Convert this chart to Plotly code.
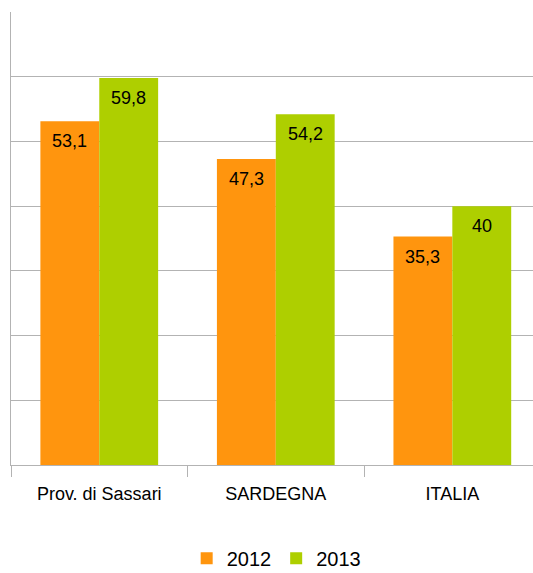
import plotly.graph_objects as go

categories = ["Prov. di Sassari", "SARDEGNA", "ITALIA"]
years = ["2012", "2013"]
values_2012 = [53.1, 47.3, 35.3]
values_2013 = [59.8, 54.2, 40]
colors = ["#ff950e", "#aecf00"]

FONT = "Liberation Sans, Arial, sans-serif"
BAR_PX = 59  # pixel width of one bar in the group (for label offsets)


def fmt(v):
    s = f"{v:g}"
    return s.replace(".", ",")


fig = go.Figure()
series = [values_2012, values_2013]
for name, vals, col in zip(years, series, colors):
    fig.add_trace(go.Bar(
        name=name,
        x=categories,
        y=vals,
        marker=dict(color=col, line=dict(width=0)),
        hovertemplate="%{x}: %{y}<extra>" + name + "</extra>",
    ))

# value labels inside the top of each bar
for i, vals in enumerate(series):
    offset = (i - 0.5) * BAR_PX
    for cat, v in zip(categories, vals):
        fig.add_annotation(
            x=cat, y=v, xref="x", yref="y",
            text=fmt(v), showarrow=False,
            xanchor="center", yanchor="top",
            xshift=offset, yshift=-8,
            font=dict(family=FONT, size=18, color="#000000"),
        )

fig.update_layout(
    width=533,
    height=573,
    margin=dict(l=11, r=0, t=12, b=108, autoexpand=False),
    paper_bgcolor="white",
    plot_bgcolor="white",
    barmode="group",
    bargap=0.333,
    bargroupgap=0,
    font=dict(family=FONT, size=18, color="#000000"),
    showlegend=True,
    legend=dict(
        orientation="h",
        x=0.508, xanchor="center",
        y=-0.206, yanchor="middle",
        font=dict(family=FONT, size=20, color="#000000"),
        itemwidth=30,
    ),
)

fig.update_xaxes(
    range=[-0.5, 2.457],
    showline=True, linecolor="#b3b3b3", linewidth=1,
    ticks="outside", tickson="boundaries", ticklen=11, tickcolor="#b3b3b3",
    ticklabelstandoff=12,
    showgrid=False,
    tickfont=dict(family=FONT, size=18, color="#000000"),
    fixedrange=True,
)
fig.update_yaxes(
    range=[0, 70],
    dtick=10,
    showgrid=True, gridcolor="#b3b3b3", gridwidth=1,
    showline=True, linecolor="#b3b3b3", linewidth=1,
    showticklabels=False,
    ticks="",
    zeroline=False,
    fixedrange=True,
)

fig.write_html("out.html")
